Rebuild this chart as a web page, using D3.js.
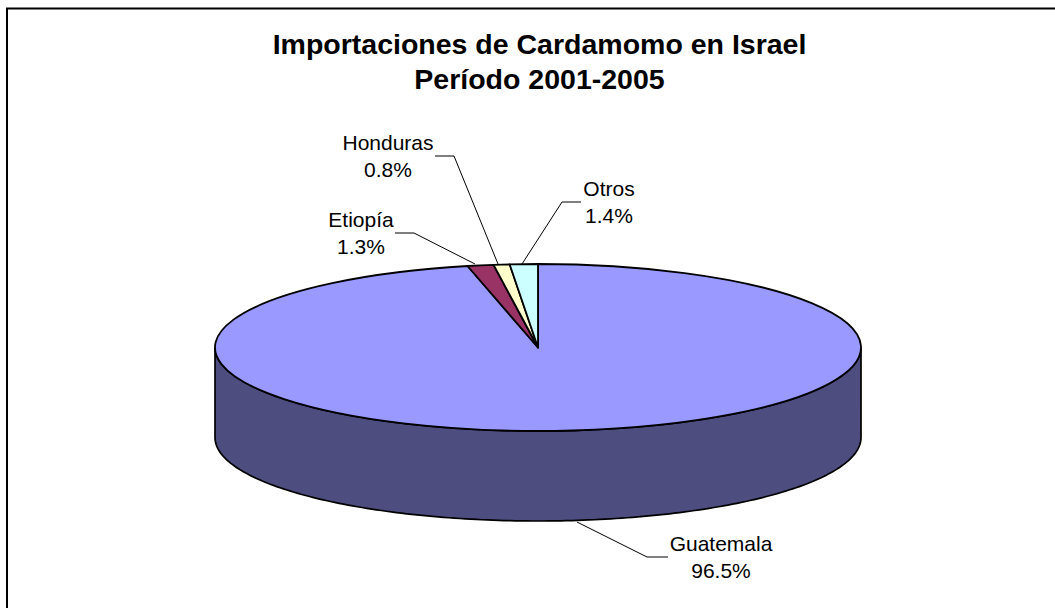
<!DOCTYPE html>
<html><head><meta charset="utf-8">
<script src="https://cdn.jsdelivr.net/npm/d3@7/dist/d3.min.js"></script>
<style>html,body{margin:0;padding:0;background:#fff}svg{display:block}text{font-family:"Liberation Sans",Arial,sans-serif;fill:#000}</style>
</head><body><svg id="c" width="1055" height="608"></svg>
<script>
const categories = ["Guatemala","Etiopía","Honduras","Otros"];
const shares = [96.5,1.3,0.8,1.4];
const shareLabels = ["96.5%","1.3%","0.8%","1.4%"];
const topColors = ["#9999ff","#993366","#ffffcc","#ccffff"];
const sideColor = "#4d4d80";
const titleLines = ["Importaciones de Cardamomo en Israel","Período 2001-2005"];
// layout
const cx=538, cy=347.5, rx=323, ry=83.5, depth=90;
const labelPos = [[721,551],[361,227],[388,150],[609,196]];
const leaders = [
 [[577,522],[647,557],[668,557]],
 [[475,264],[414,233],[395,233]],
 [[498,264],[454,156],[435,156]],
 [[522,264],[562,202],[581,202]]
];
const svg=d3.select("#c");
svg.append("path").attr("d",d3.line()([[7,608],[7,8.5],[1055,8.5]])).attr("fill","none").attr("stroke","#000").attr("stroke-width",2);
svg.append("g").selectAll("text").data(titleLines).join("text")
 .attr("x",539.5).attr("y",(d,i)=>53.5+i*35).attr("text-anchor","middle")
 .attr("font-size",28.5).attr("font-weight","bold").text(d=>d);

const arcs=d3.pie().sort(null).startAngle(0).endAngle(2*Math.PI)(shares);
const px=a=>cx+rx*Math.sin(a), py=a=>cy-ry*Math.cos(a);
const span=d3.range(181).map(i=>Math.PI/2+i*Math.PI/180);
const sidePts=[...span.map(a=>[px(a),py(a)]),...span.slice().reverse().map(a=>[px(a),py(a)+depth])];
svg.append("path").attr("d",d3.line()(sidePts)+"Z").attr("fill",sideColor).attr("stroke","#000").attr("stroke-width",1.7);

const arcGen=d3.arc().innerRadius(0).outerRadius(rx);
svg.append("g").attr("transform",`translate(${cx},${cy}) scale(1,${ry/rx})`)
 .selectAll("path").data(arcs).join("path").attr("d",arcGen)
 .attr("fill",(d,i)=>topColors[i]).attr("stroke","#000").attr("stroke-width",1.8)
 .attr("vector-effect","non-scaling-stroke").attr("stroke-linejoin","round");

svg.append("g").selectAll("path").data(leaders).join("path").attr("d",d=>d3.line()(d))
 .attr("fill","none").attr("stroke","#000").attr("stroke-width",1);
const lab=svg.append("g").selectAll("g").data(categories).join("g").attr("text-anchor","middle").attr("font-size",21);
lab.append("text").attr("x",(d,i)=>labelPos[i][0]).attr("y",(d,i)=>labelPos[i][1]).text(d=>d);
lab.append("text").attr("x",(d,i)=>labelPos[i][0]).attr("y",(d,i)=>labelPos[i][1]+26.5).text((d,i)=>shareLabels[i]);
</script></body></html>
